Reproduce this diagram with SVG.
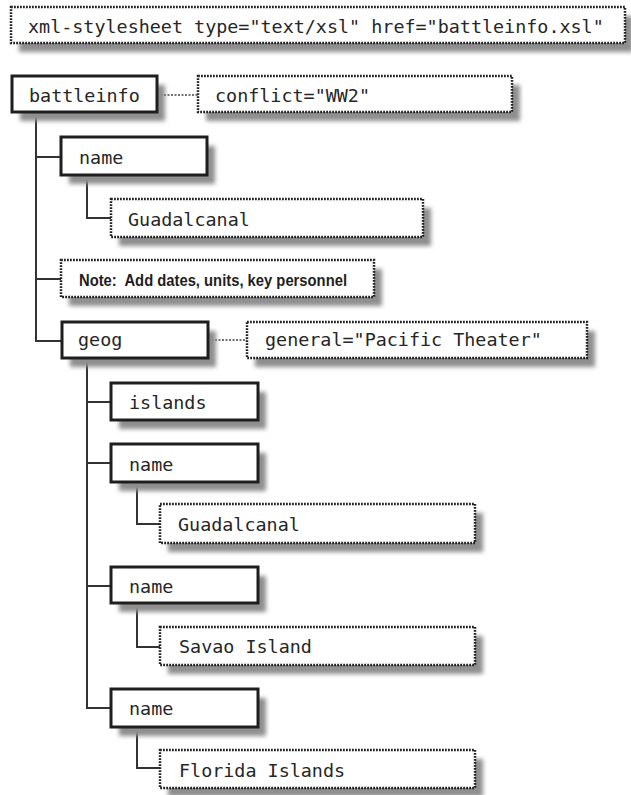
<svg xmlns="http://www.w3.org/2000/svg" width="631" height="795" viewBox="0 0 631 795">
<style>
.sh{fill:#8f8f8f;filter:url(#blur)}
.solid{fill:#fff;stroke:#1e1e1e;stroke-width:3}
.dot{fill:#fff;stroke:#222;stroke-width:2.5;stroke-dasharray:1.8 1.2}
.t{font-family:"DejaVu Sans Mono","Liberation Mono",monospace;font-size:18.4px;fill:#262626}
.n{font-family:"Liberation Sans",Arial,sans-serif;font-weight:bold;font-size:17px;fill:#1e1e1e}
.c{fill:none;stroke:#333;stroke-width:2}
.cd{fill:none;stroke:#444;stroke-width:1.5;stroke-dasharray:2 1.5}
</style>
<defs>
<filter id="blur" x="-10%" y="-50%" width="120%" height="200%"><feGaussianBlur stdDeviation="2"/></filter>
</defs>
<rect width="631" height="795" fill="#fff"/>
<g id="connectors">
<path class="c" d="M36 112V341H62M36 157H61M36 279H61"/>
<path class="c" d="M87 175V218H111"/>
<path class="c" d="M87 358V708H111M87 402H111M87 463H111M87 586H111"/>
<path class="c" d="M137 482V524H160M137 603V647H160M137 727V768H160"/>
<path class="cd" d="M157 95H198M208 340H247"/>
</g>
<g id="pi"><rect class="sh" x="19" y="16" width="614" height="36"/><rect class="dot" x="11" y="7" width="614" height="36"/><text class="t" x="28" y="33">xml-stylesheet type="text/xsl" href="battleinfo.xsl"</text></g>
<g id="battleinfo"><rect class="sh" x="20" y="85" width="145" height="36"/><rect class="solid" x="12" y="76" width="145" height="36"/><text class="t" x="29" y="102">battleinfo</text></g>
<g id="conflict"><rect class="sh" x="206" y="85" width="314" height="36"/><rect class="dot" x="198" y="76" width="314" height="36"/><text class="t" x="215" y="102">conflict="WW2"</text></g>
<g id="name1"><rect class="sh" x="69" y="146" width="146" height="38"/><rect class="solid" x="61" y="137" width="146" height="38"/><text class="t" x="79" y="164">name</text></g>
<g id="guadalcanal1"><rect class="sh" x="119" y="208" width="312" height="38"/><rect class="dot" x="111" y="199" width="312" height="38"/><text class="t" x="128" y="226">Guadalcanal</text></g>
<g id="note"><rect class="sh" x="69" y="269" width="313" height="37"/><rect class="dot" x="61" y="260" width="313" height="37"/><text class="n" x="79" y="286" textLength="268" lengthAdjust="spacingAndGlyphs">Note:&#160; Add dates, units, key personnel</text></g>
<g id="geog"><rect class="sh" x="70" y="331" width="146" height="36"/><rect class="solid" x="62" y="322" width="146" height="36"/><text class="t" x="78" y="346">geog</text></g>
<g id="general"><rect class="sh" x="255" y="331" width="340" height="36"/><rect class="dot" x="247" y="322" width="340" height="36"/><text class="t" x="265" y="346">general="Pacific Theater"</text></g>
<g id="islands"><rect class="sh" x="119" y="392" width="147" height="37"/><rect class="solid" x="111" y="383" width="147" height="37"/><text class="t" x="129" y="409">islands</text></g>
<g id="name2"><rect class="sh" x="119" y="453" width="147" height="38"/><rect class="solid" x="111" y="444" width="147" height="38"/><text class="t" x="129" y="471">name</text></g>
<g id="guadalcanal2"><rect class="sh" x="168" y="513" width="315" height="39"/><rect class="dot" x="160" y="504" width="315" height="39"/><text class="t" x="178" y="531">Guadalcanal</text></g>
<g id="name3"><rect class="sh" x="119" y="576" width="147" height="36"/><rect class="solid" x="111" y="567" width="147" height="36"/><text class="t" x="129" y="593">name</text></g>
<g id="savao"><rect class="sh" x="168" y="636" width="315" height="38"/><rect class="dot" x="160" y="627" width="315" height="38"/><text class="t" x="179" y="653">Savao Island</text></g>
<g id="name4"><rect class="sh" x="119" y="698" width="147" height="38"/><rect class="solid" x="111" y="689" width="147" height="38"/><text class="t" x="129" y="715">name</text></g>
<g id="florida"><rect class="sh" x="168" y="759" width="315" height="38"/><rect class="dot" x="160" y="750" width="315" height="38"/><text class="t" x="179" y="777">Florida Islands</text></g>
</svg>
